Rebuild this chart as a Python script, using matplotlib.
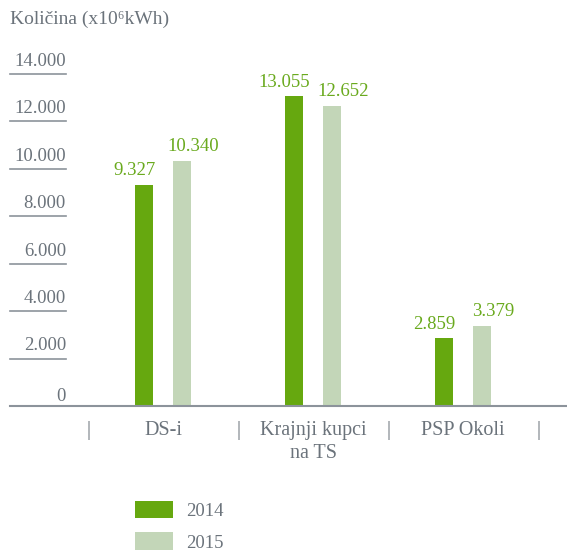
import matplotlib.pyplot as plt
import numpy as np

# data
categories = ["DS-i", "Krajnji kupci\nna TS", "PSP Okoli"]
years = ["2014", "2015"]
values_2014 = [9327, 13055, 2859]
values_2015 = [10340, 12652, 3379]
labels_2014 = ["9.327", "13.055", "2.859"]
labels_2015 = ["10.340", "12.652", "3.379"]
y_ticks = [0, 2000, 4000, 6000, 8000, 10000, 12000, 14000]
y_tick_labels = ["0", "2.000", "4.000", "6.000", "8.000", "10.000", "12.000", "14.000"]

green = "#66a80f"
light = "#c3d6b8"
label_green = "#6aaa1e"
grey_text = "#6b737b"
axis_grey = "#8c939b"

plt.rcParams['font.family'] = ['Liberation Serif', 'DejaVu Serif']

W, H = 567, 552
fig = plt.figure(figsize=(W / 100, H / 100), dpi=100)
# axes from x=10px to right edge, baseline at y=406px, 14000 at y=74px
ax = fig.add_axes([10 / W, (H - 406) / H, (W - 10) / W, (406 - 74) / H])

x = np.arange(len(categories))
off = 0.125
bw = 0.12
b1 = ax.bar(x - off, values_2014, bw, color=green, label=years[0])
b2 = ax.bar(x + off, values_2015, bw, color=light, label=years[1])

# value labels sit a little outward of their bars
for xi, v, s in zip(x - off, values_2014, labels_2014):
    ax.annotate(s, (xi, v), xytext=(-7, 4), textcoords="offset points",
                ha="center", va="bottom", color=label_green, fontsize=13.5)
for xi, v, s in zip(x + off, values_2015, labels_2015):
    ax.annotate(s, (xi, v), xytext=(8, 4), textcoords="offset points",
                ha="center", va="bottom", color=label_green, fontsize=13.5)

ax.set_xlim((10 - 163) / 150, (567 - 163) / 150)
ax.set_ylim(0, 14000)
for sp in ax.spines.values():
    sp.set_visible(False)
ax.set_xticks([])
ax.set_yticks([])

# baseline
ax.axhline(0, color=axis_grey, lw=1.5, clip_on=False)

# y tick labels with underline segments
tr = ax.get_yaxis_transform()
x_end = (66 - 10) / (W - 10)
for v, s in zip(y_ticks, y_tick_labels):
    if v > 0:
        ax.plot([0, x_end], [v, v], color=axis_grey, lw=1.2, transform=tr, clip_on=False)
    ax.annotate(s, (x_end, v), xycoords=tr, xytext=(0, 3 if v > 0 else 1),
                textcoords="offset points", ha="right", va="bottom",
                color=grey_text, fontsize=13.5)

# category labels and separators
for xi, c in zip(x, categories):
    ax.annotate(c, (xi, 0), xytext=(0, -11), textcoords="offset points",
                ha="center", va="top", color=grey_text, fontsize=14.5,
                linespacing=1.3, annotation_clip=False)
for sx in np.arange(len(categories) + 1) - 0.5:
    ax.annotate("|", (sx, 0), xytext=(0, -11), textcoords="offset points",
                ha="center", va="top", color=grey_text, fontsize=14.5,
                annotation_clip=False)

fig.text(10 / W, 1 - 19 / H, "Količina (x10⁶kWh)", ha="left", va="center",
         color=grey_text, fontsize=14)

fig.legend(handles=[b1, b2], loc="upper left", bbox_to_anchor=(135 / W, 1 - 501 / H),
           frameon=False, fontsize=13.5, handlelength=2.0, handleheight=1.05,
           borderpad=0, borderaxespad=0,
           labelspacing=0.66, handletextpad=0.75, labelcolor=grey_text)

fig.savefig("out.png", dpi=100)
